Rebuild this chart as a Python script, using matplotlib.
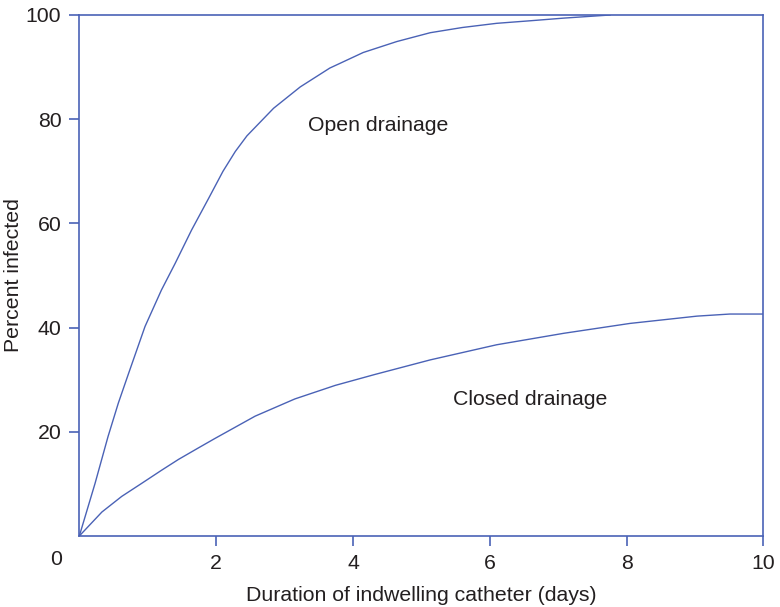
import numpy as np
import matplotlib
matplotlib.use("Agg")
import matplotlib.pyplot as plt

# values
days_open = [0, 0.23, 0.42, 0.57, 0.72, 0.96, 1.2, 1.4, 1.64, 1.89, 2.1, 2.28, 2.45,
             2.84, 3.23, 3.66, 4.15, 4.64, 5.13, 5.6, 6.1, 6.6, 7.08, 7.76]
pct_open = [0, 10.1, 19.1, 25.5, 31.2, 40.2, 47.2, 52.3, 58.7, 64.8, 70.0, 73.8, 76.8,
            82.1, 86.2, 89.8, 92.8, 94.9, 96.6, 97.6, 98.4, 98.9, 99.4, 100]

days_closed = [0, 0.33, 0.62, 0.9, 1.2, 1.45, 1.74, 1.98, 2.57, 3.15, 3.74, 4.32, 5.13,
               6.1, 7.08, 8.05, 9.03, 9.51, 10.0]
pct_closed = [0, 4.6, 7.6, 10.0, 12.6, 14.7, 16.9, 18.7, 23.0, 26.3, 28.9, 31.0, 33.8,
              36.7, 38.9, 40.8, 42.2, 42.6, 42.6]

xticks = [2, 4, 6, 8, 10]
yticks = [20, 40, 60, 80, 100]

blue = '#4a62b6'
txt = '#231f20'
fs = 15.3

plt.rcParams['font.family'] = ['Liberation Sans', 'DejaVu Sans']

fig = plt.figure(figsize=(7.8, 6.07), dpi=100)
ax = fig.add_axes([0.1017, 0.117, 0.877, 0.8583])

ax.plot(days_open, pct_open, color=blue, lw=1.0)
ax.plot(days_closed, pct_closed, color=blue, lw=1.0)

ax.set_xlim(0, 10)
ax.set_ylim(0, 100)
ax.set_xticks(xticks)
ax.set_yticks(yticks)
ax.set_xticklabels([str(t) for t in xticks])
ax.set_yticklabels([str(t) for t in yticks])

for s in ax.spines.values():
    s.set_color(blue)
    s.set_linewidth(1.2)
ax.tick_params(axis='both', direction='out', length=7, width=1.2, color=blue,
               labelsize=fs, labelcolor=txt)
ax.tick_params(axis='x', pad=6)
ax.tick_params(axis='y', pad=6)

# lone "0" at the corner
ax.annotate('0', xy=(0, 0), xytext=(-17, -24), textcoords='offset pixels',
            ha='right', va='center', fontsize=fs, color=txt)

ax.text(3.34, 78.7, 'Open drainage', fontsize=fs, color=txt, va='center', ha='left')
ax.text(5.46, 26.2, 'Closed drainage', fontsize=fs, color=txt, va='center', ha='left')

ax.set_xlabel('Duration of indwelling catheter (days)', fontsize=fs, color=txt, labelpad=9)
ax.set_ylabel('Percent infected', fontsize=fs, color=txt)
ax.yaxis.set_label_coords(-0.082, 0.5)

plt.savefig('out.png', dpi=100)
plt.close()
